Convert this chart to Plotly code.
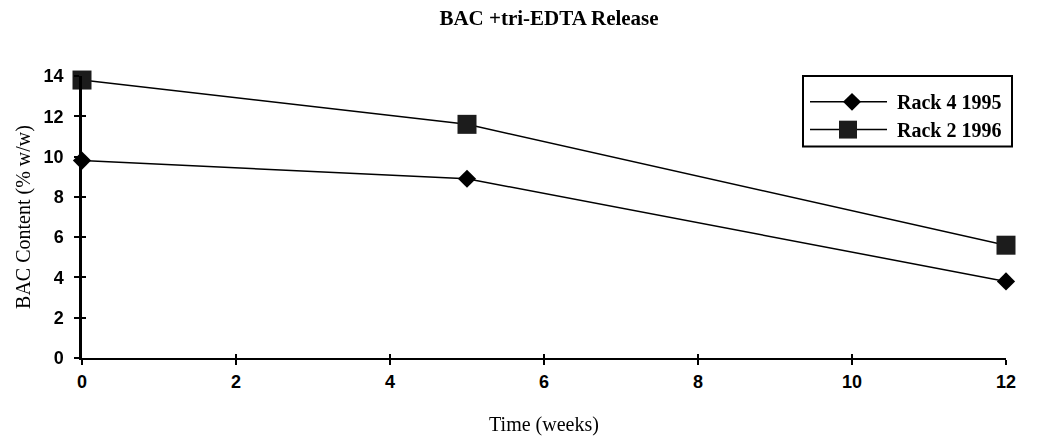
import plotly.graph_objects as go

weeks = [0, 5, 12]
rack4_1995 = [9.8, 8.9, 3.8]
rack2_1996 = [13.8, 11.6, 5.6]
series_names = ["Rack 4 1995", "Rack 2 1996"]
x_ticks = [0, 2, 4, 6, 8, 10, 12]
y_ticks = [0, 2, 4, 6, 8, 10, 12, 14]

W, H = 1037, 444
ML, MR, MT, MB = 82, 31, 76, 84
PW, PH = W - ML - MR, H - MT - MB


def px(x):
    return (x - ML) / PW


def py(y):
    return (H - MB - y) / PH


fig = go.Figure()
fig.add_trace(go.Scatter(
    x=weeks, y=rack4_1995, name=series_names[0], mode="lines+markers",
    line=dict(color="black", width=1.5),
    marker=dict(symbol="diamond", size=14, color="black", line=dict(width=0)),
    cliponaxis=False, showlegend=False))
fig.add_trace(go.Scatter(
    x=weeks, y=rack2_1996, name=series_names[1], mode="lines+markers",
    line=dict(color="black", width=1.5),
    marker=dict(symbol="square", size=19, color="#1c1c1c", line=dict(width=0)),
    cliponaxis=False, showlegend=False))
# overlay axes for inner tick halves (ticks cross the axis lines)
fig.add_trace(go.Scatter(x=weeks, y=rack4_1995, xaxis="x2", yaxis="y2",
                         mode="markers", opacity=0, hoverinfo="skip",
                         showlegend=False))

# manual legend
shapes = []
annotations = []
shapes.append(dict(type="rect", xref="paper", yref="paper",
                   x0=px(803), x1=px(1012), y0=py(76), y1=py(147),
                   line=dict(color="black", width=2), fillcolor="white",
                   layer="above"))
rows = [102, 130]
for i, ry in enumerate(rows):
    shapes.append(dict(type="line", xref="paper", yref="paper",
                       x0=px(810), x1=px(887), y0=py(ry), y1=py(ry),
                       line=dict(color="black", width=1.5), layer="above"))
    annotations.append(dict(text="<b>" + series_names[i] + "</b>", xref="paper", yref="paper",
                            x=px(895), y=py(ry), xanchor="left", yanchor="middle",
                            showarrow=False,
                            font=dict(family="Liberation Serif", size=20, color="black")))
# diamond glyph
cx, cy, r = 852, rows[0], 9
shapes.append(dict(type="path", xref="paper", yref="paper",
                   path=f"M {px(cx - r)} {py(cy)} L {px(cx)} {py(cy - r)} L {px(cx + r)} {py(cy)} L {px(cx)} {py(cy + r)} Z",
                   fillcolor="black", line=dict(width=0), layer="above"))
# square glyph
cx, cy, r = 848, rows[1], 9
shapes.append(dict(type="rect", xref="paper", yref="paper",
                   x0=px(cx - r), x1=px(cx + r), y0=py(cy + r), y1=py(cy - r),
                   fillcolor="#1c1c1c", line=dict(width=0), layer="above"))

fig.update_layout(
    width=W, height=H,
    margin=dict(l=ML, r=MR, t=MT, b=MB),
    paper_bgcolor="white", plot_bgcolor="white",
    showlegend=False,
    shapes=shapes, annotations=annotations,
    title=dict(text="<b>BAC +tri-EDTA Release</b>", x=(549) / W, xanchor="center",
               y=1 - 18 / H, yanchor="middle",
               font=dict(family="Liberation Serif", size=21, color="black")),
    xaxis=dict(range=[0, 12], tickvals=x_ticks, showgrid=False, zeroline=False,
               showline=True, linecolor="black", linewidth=1.5,
               ticks="outside", ticklen=5, tickcolor="black", tickwidth=1.5,
               ticklabelstandoff=2,
               tickfont=dict(family="Liberation Sans", size=18, color="black", weight="bold"),
               title=dict(text="Time (weeks)", standoff=26,
                          font=dict(family="Liberation Serif", size=20, color="black"))),
    yaxis=dict(range=[0, 14], tickvals=y_ticks, showgrid=False, zeroline=False,
               showline=True, linecolor="black", linewidth=2.5,
               ticks="outside", ticklen=5, tickcolor="black", tickwidth=1.5,
               ticklabelstandoff=7,
               tickfont=dict(family="Liberation Sans", size=18, color="black", weight="bold"),
               title=dict(text="BAC Content (% w/w)", standoff=8,
                          font=dict(family="Liberation Serif", size=20, color="black"))),
    xaxis2=dict(range=[0, 12], tickvals=x_ticks, overlaying="x", showgrid=False,
                zeroline=False, showline=False, ticks="inside", ticklen=4,
                tickcolor="black", tickwidth=1.5, showticklabels=False, side="bottom"),
    yaxis2=dict(range=[0, 14], tickvals=y_ticks, overlaying="y", showgrid=False,
                zeroline=False, showline=False, ticks="inside", ticklen=4,
                tickcolor="black", tickwidth=1.5, showticklabels=False, side="left"),
)

fig.write_html("out.html")
